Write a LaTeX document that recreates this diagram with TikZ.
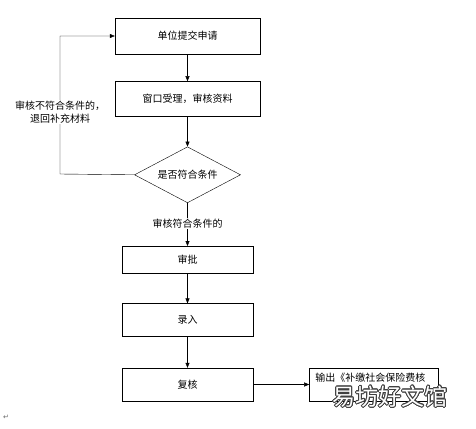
\documentclass[tikz,border=0pt]{standalone}
\usepackage{fontspec}
\setmainfont{Noto Sans CJK SC}
\newfontfamily\symfont{DejaVu Sans}
\usepackage{contour}
\usetikzlibrary{shapes.geometric, arrows.meta, positioning}

\begin{document}
\begin{tikzpicture}[x=1pt, y=-1pt, font=\fontsize{10}{13}\selectfont, >={Triangle[length=5pt, width=4pt]},
        box/.style={draw, rectangle, inner sep=0, minimum width=145pt, minimum height=36pt},
        smallbox/.style={box, minimum width=131pt, minimum height=33pt},
        test/.style={draw, diamond, aspect=1.9, inner sep=0, minimum width=106pt, minimum height=56pt},
        note/.style={fill=white, inner sep=1pt, align=center}]
        \useasboundingbox (0,0) rectangle (476,428);

        \node[box] (apply) at (187.5,36) {单位提交申请};
        \node[box, minimum height=35pt, below=27pt of apply] (accept) {窗口受理，审核资料};
        \node[test, below=30pt of accept] (check) {是否符合条件};
        \node[smallbox, minimum height=27pt, below=43pt of check] (approve) {审批};
        \node[smallbox, below=30pt of approve] (enter) {录入};
        \node[smallbox, below=31pt of enter] (recheck) {复核};
        \node[smallbox, minimum width=129pt, right=56pt of recheck] (output) {};
        \node[anchor=north west, inner sep=0] (outtext) at ([shift={(6pt,-5pt)}]output.north west) {输出《补缴社会保险费核};

        \draw[->] (apply) -- (accept);
        \draw[->] (accept) -- (check);
        \coordinate (back) at (60,174);
        \draw[->] (check.west) -- (back) |- node[note, pos=0.225] {审核不符合条件的，\\退回补充材料} (apply.west);
        \draw[->] (check.south) -- node[note, pos=0.47] {审核符合条件的} (approve.north);
        \draw[->] (approve) -- (enter);
        \draw[->] (enter) -- (recheck);
        \draw[->] (recheck) -- (output);

        % watermark and paragraph mark
        \node[inner sep=0, font=\fontsize{23}{23}\selectfont] (mark) at (390,397) {\contourlength{0.7pt}\contour{black!75}{\textcolor{white}{易坊好文馆}}};
        \node[inner sep=0, text=black!60, font=\symfont\fontsize{7}{7}\selectfont] (para) at (6,417) {↵};
    \end{tikzpicture}
\end{document}
